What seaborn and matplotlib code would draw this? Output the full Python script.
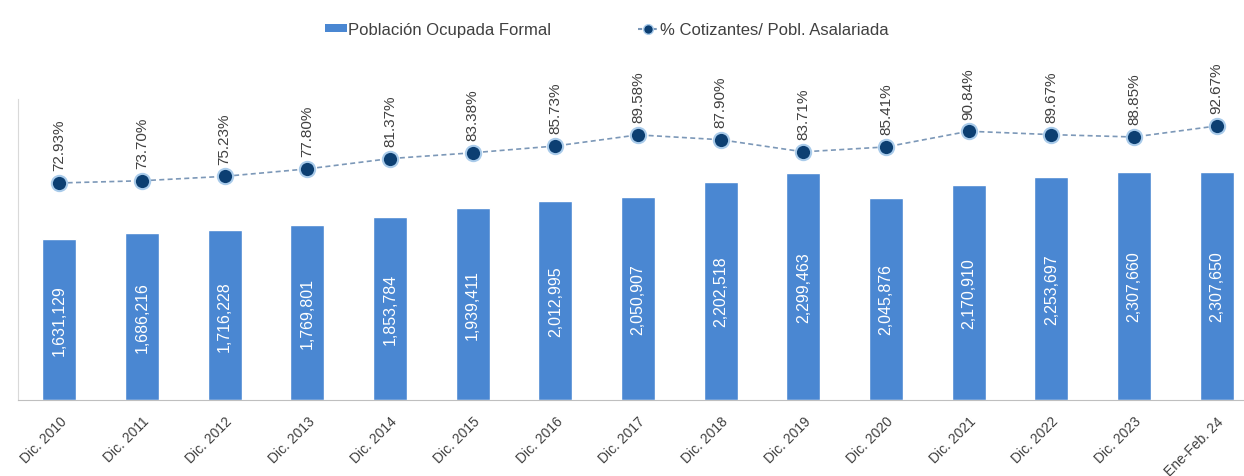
import matplotlib
matplotlib.use('Agg')
import matplotlib.pyplot as plt
from matplotlib.patches import Patch
from matplotlib.lines import Line2D
import seaborn as sns
import numpy as np
import pandas as pd

# Data
periodos = ['Dic. 2010', 'Dic. 2011', 'Dic. 2012', 'Dic. 2013', 'Dic. 2014',
            'Dic. 2015', 'Dic. 2016', 'Dic. 2017', 'Dic. 2018', 'Dic. 2019',
            'Dic. 2020', 'Dic. 2021', 'Dic. 2022', 'Dic. 2023', 'Ene-Feb. 24']
poblacion_formal = [1631129, 1686216, 1716228, 1769801, 1853784,
                    1939411, 2012995, 2050907, 2202518, 2299463,
                    2045876, 2170910, 2253697, 2307660, 2307650]
pct_cotizantes = [72.93, 73.70, 75.23, 77.80, 81.37,
                  83.38, 85.73, 89.58, 87.90, 83.71,
                  85.41, 90.84, 89.67, 88.85, 92.67]

BAR_COLOR = '#4A87D2'
DOT_COLOR = '#0C3F72'
LINE_COLOR = '#7C98B8'
TEXT_COLOR = '#404040'

sns.set_style('white')
plt.rcParams['font.family'] = ['Liberation Sans', 'DejaVu Sans']

df = pd.DataFrame({'periodo': periodos, 'poblacion': poblacion_formal, 'pct': pct_cotizantes})

fig = plt.figure(figsize=(12.44, 4.77), dpi=100)
ax = fig.add_axes([18 / 1244, 76 / 477, 1240 / 1244, 301 / 477])

# bars
sns.barplot(data=df, x='periodo', y='poblacion', color=BAR_COLOR, width=0.41,
            saturation=1, ax=ax)
ax.bar_label(ax.containers[0], labels=[f'{v:,}' for v in poblacion_formal],
             label_type='center', rotation=90, color='white', fontsize=11.5)
ax.set_ylim(0, 3.045e6)
ax.set_xlim(-0.5, len(periodos) - 0.5)

# line on secondary axis
ax2 = ax.twinx()
sns.lineplot(x=np.arange(len(periodos)), y=df['pct'], ax=ax2, color=LINE_COLOR,
             linestyle=(0, (3, 2)), linewidth=1.2, marker='o', markersize=11,
             markerfacecolor=DOT_COLOR, markeredgecolor='#A9CBEA', markeredgewidth=1.5)
for i, v in enumerate(pct_cotizantes):
    ax2.annotate(f'{v:.2f}%', (i, v), xytext=(0, 9), textcoords='offset points',
                 rotation=90, ha='center', va='bottom', fontsize=11, color=TEXT_COLOR)
ax2.set_ylim(-2.2, 102)

# axes styling
for a in (ax, ax2):
    a.set_ylabel('')
    a.set_yticks([])
    for s in ('top', 'right'):
        a.spines[s].set_visible(False)
ax2.spines['left'].set_visible(False)
ax2.spines['bottom'].set_visible(False)
ax.spines['left'].set_color('#D9D9D9')
ax.spines['bottom'].set_color('#BFBFBF')
ax.set_xlabel('')
ax.tick_params(axis='x', length=0, pad=10)
ax.set_xticks(range(len(periodos)))
ax.set_xticklabels(periodos, rotation=45, ha='right', rotation_mode='anchor',
                   fontsize=10, color=TEXT_COLOR)

# legend
handles = [Patch(facecolor=BAR_COLOR, edgecolor='none', label='Población Ocupada Formal'),
           Line2D([0], [0], color=LINE_COLOR, linestyle=(0, (2, 1.5)), marker='o',
                  markersize=7, markerfacecolor=DOT_COLOR, markeredgecolor='#A9CBEA',
                  label='% Cotizantes/ Pobl. Asalariada')]
fig.legend(handles=handles, loc='center', bbox_to_anchor=(607 / 1244, 0.937), ncol=2,
           frameon=False, fontsize=12, columnspacing=5.2, handlelength=1.3,
           handleheight=0.36, handletextpad=0.05, labelcolor=TEXT_COLOR)

fig.savefig('out.png', dpi=100)
